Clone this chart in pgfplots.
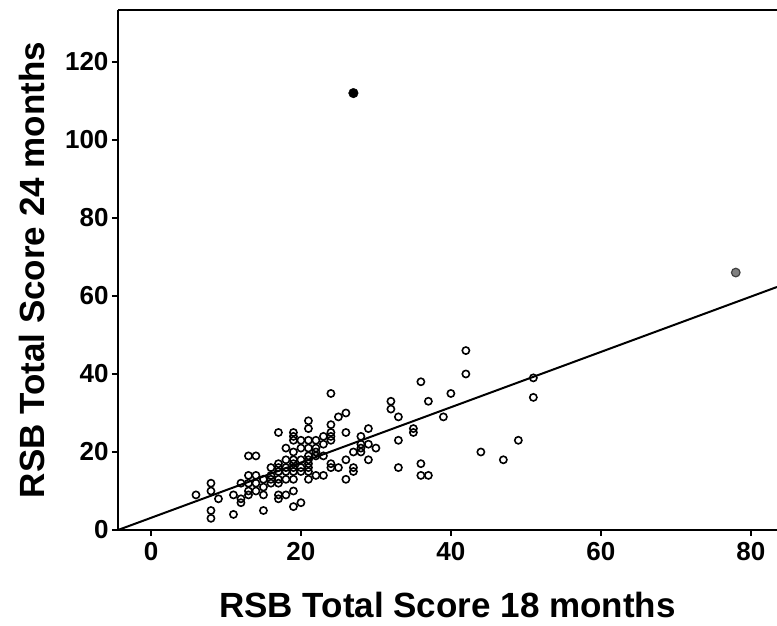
\documentclass[border=0pt]{standalone}
\usepackage{fontspec}
\setmainfont{Liberation Sans}
\usepackage{pgfplots}
\pgfplotsset{compat=1.18}
\usetikzlibrary{calc}

\begin{document}
\begin{tikzpicture}
\begin{axis}[
    name=ax,
    scale only axis,
    width=659pt, height=520pt,
    xmin=-4.4, xmax=83.5,
    ymin=0, ymax=133.3,
    axis x line*=bottom,
    axis y line*=left,
    axis line style={line width=2pt, -},
    tick align=outside,
    major tick length=6pt,
    tick style={line width=1.5pt, black},
    xtick={0,20,40,60,80},
    ytick={0,20,40,60,80,100,120},
    /pgf/number format/assume math mode=true,
    tick label style={font=\fontsize{26}{26}\selectfont\bfseries},
    xticklabel style={yshift=-3pt},
    xlabel={RSB Total Score 18 months},
    ylabel={RSB Total Score 24 months},
    label style={font=\fontsize{35}{35}\selectfont\bfseries},
    xlabel style={at={(axis description cs:0.5,0)}, anchor=base, yshift=-87pt},
    ylabel style={at={(axis description cs:0,0.5)}, anchor=base, yshift=73pt},
    clip=false,
]
% fit line
\addplot[black, line width=2pt, no marks] coordinates {(-4.4,0) (83.5,62.3)};
% observations
\addplot[only marks, mark=o, mark size=3.6pt, mark options={line width=1.6pt, black}] coordinates {
(24,35) (32,33) (32,31) (33,29) (33,23) (33,16) (26,30) (25,29) (21,28) (21,26)
(24,27) (24,25) (24,24) (24,23) (17,25) (19,25) (19,24) (19,23) (20,23) (21,23)
(22,23) (23,24) (23,22) (26,25) (29,26) (28,24) (28,22) (28,21) (28,20) (29,22)
(30,21) (29,18) (27,20) (26,18) (27,16) (27,15) (25,16) (24,17) (24,16) (26,13)
(23,19) (22,21) (22,20) (22,19) (21,21) (21,19) (21,18) (21,17) (21,16) (21,15)
(21,13) (20,21) (20,18) (20,16) (20,15) (19,20) (19,18) (19,17) (19,16) (19,15)
(19,13) (19,10) (18,21) (18,18) (18,16) (18,15) (18,13) (18,9) (17,17) (17,16)
(17,15) (17,13) (17,12) (17,9) (17,8) (16,16) (16,14) (16,13) (16,12) (15,13)
(15,11) (15,9) (15,5) (14,14) (14,12) (14,10) (13,19) (14,19) (13,14) (13,12)
(13,10) (13,9) (12,12) (12,8) (12,7) (11,9) (11,4) (8,12) (8,10) (8,5)
(8,3) (9,8) (6,9) (20,7) (19,6) (23,14) (22,14)
(42,46) (42,40) (36,38) (40,35) (37,33) (39,29) (35,26) (35,25) (51,39) (51,34)
(49,23) (44,20) (47,18) (36,17) (36,14) (37,14)
};
% outliers
\addplot[only marks, mark=*, mark size=4.8pt, mark options={black, fill=black}] coordinates {(27,112)};
\addplot[only marks, mark=*, mark size=4.3pt, mark options={draw=black!75, line width=1.2pt, fill=black!50}] coordinates {(78,66)};
% top frame line
\draw[line width=2pt] (rel axis cs:0,1) -- (rel axis cs:1,1);
\end{axis}
\pgfresetboundingbox
\useasboundingbox ($(ax.south west)+(-118pt,-95pt)$) rectangle ($(ax.north east)+(0pt,10pt)$);
\end{tikzpicture}
\end{document}
